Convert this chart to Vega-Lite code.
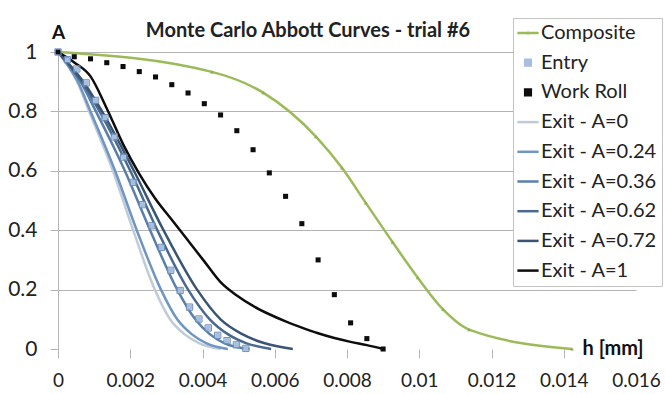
{
  "$schema": "https://vega.github.io/schema/vega-lite/v6.json",
  "width": 578,
  "height": 297,
  "autosize": {"type": "none"},
  "padding": {"left": 58, "top": 52, "right": 29, "bottom": 45},
  "background": "white",
  "config": {
    "font": "Lato",
    "view": {"stroke": null},
    "legend": {
      "orient": "none",
      "legendX": 455,
      "legendY": -34,
      "title": null,
      "labelFont": "Lato",
      "labelFontSize": 20,
      "labelColor": "#222222",
      "labelLimit": 400,
      "labelOffset": 3,
      "symbolSize": 50,
      "symbolStrokeWidth": 2.5,
      "padding": 5,
      "rowPadding": 9.7,
      "strokeColor": "#c4c4c4",
      "fillColor": "white"
    }
  },
  "title": {
    "text": "Monte Carlo Abbott Curves - trial #6",
    "font": "Lato",
    "fontSize": 20,
    "fontWeight": "bold",
    "color": "#222222",
    "anchor": "middle",
    "dx": -39,
    "dy": 27,
    "offset": 4
  },
  "data": {
    "values": [
      {"s": "Composite", "h": 0, "A": 1},
      {"s": "Composite", "h": 0.00426, "A": 0.933},
      {"s": "Composite", "h": 0.00568, "A": 0.863},
      {"s": "Composite", "h": 0.00714, "A": 0.715},
      {"s": "Composite", "h": 0.00786, "A": 0.61},
      {"s": "Composite", "h": 0.00852, "A": 0.492},
      {"s": "Composite", "h": 0.00926, "A": 0.36},
      {"s": "Composite", "h": 0.00996, "A": 0.24},
      {"s": "Composite", "h": 0.01066, "A": 0.133},
      {"s": "Composite", "h": 0.01138, "A": 0.065},
      {"s": "Composite", "h": 0.01423, "A": 0},

      {"s": "Entry", "h": 0, "A": 1},
      {"s": "Entry", "h": 0.00026, "A": 0.974},
      {"s": "Entry", "h": 0.00052, "A": 0.943},
      {"s": "Entry", "h": 0.00078, "A": 0.896},
      {"s": "Entry", "h": 0.00104, "A": 0.837},
      {"s": "Entry", "h": 0.0013, "A": 0.779},
      {"s": "Entry", "h": 0.00156, "A": 0.714},
      {"s": "Entry", "h": 0.00182, "A": 0.646},
      {"s": "Entry", "h": 0.00208, "A": 0.561},
      {"s": "Entry", "h": 0.00234, "A": 0.486},
      {"s": "Entry", "h": 0.0026, "A": 0.415},
      {"s": "Entry", "h": 0.00286, "A": 0.342},
      {"s": "Entry", "h": 0.00312, "A": 0.265},
      {"s": "Entry", "h": 0.00338, "A": 0.197},
      {"s": "Entry", "h": 0.00364, "A": 0.141},
      {"s": "Entry", "h": 0.0039, "A": 0.101},
      {"s": "Entry", "h": 0.00416, "A": 0.071},
      {"s": "Entry", "h": 0.00442, "A": 0.046},
      {"s": "Entry", "h": 0.00468, "A": 0.028},
      {"s": "Entry", "h": 0.00494, "A": 0.014},
      {"s": "Entry", "h": 0.0052, "A": 0.002},

      {"s": "Work Roll", "h": 0, "A": 1},
      {"s": "Work Roll", "h": 0.00045, "A": 0.984},
      {"s": "Work Roll", "h": 0.0009, "A": 0.977},
      {"s": "Work Roll", "h": 0.00135, "A": 0.964},
      {"s": "Work Roll", "h": 0.0018, "A": 0.951},
      {"s": "Work Roll", "h": 0.00225, "A": 0.934},
      {"s": "Work Roll", "h": 0.0027, "A": 0.916},
      {"s": "Work Roll", "h": 0.00315, "A": 0.89},
      {"s": "Work Roll", "h": 0.0036, "A": 0.862},
      {"s": "Work Roll", "h": 0.00405, "A": 0.826},
      {"s": "Work Roll", "h": 0.0045, "A": 0.788},
      {"s": "Work Roll", "h": 0.00495, "A": 0.735},
      {"s": "Work Roll", "h": 0.0054, "A": 0.671},
      {"s": "Work Roll", "h": 0.00585, "A": 0.593},
      {"s": "Work Roll", "h": 0.0063, "A": 0.514},
      {"s": "Work Roll", "h": 0.00675, "A": 0.422},
      {"s": "Work Roll", "h": 0.0072, "A": 0.3},
      {"s": "Work Roll", "h": 0.00765, "A": 0.183},
      {"s": "Work Roll", "h": 0.0081, "A": 0.088},
      {"s": "Work Roll", "h": 0.00855, "A": 0.035},
      {"s": "Work Roll", "h": 0.009, "A": 0},

      {"s": "Exit - A=0", "h": 0, "A": 1},
      {"s": "Exit - A=0", "h": 0.0003, "A": 0.95},
      {"s": "Exit - A=0", "h": 0.00053, "A": 0.9},
      {"s": "Exit - A=0", "h": 0.00086, "A": 0.8},
      {"s": "Exit - A=0", "h": 0.00152, "A": 0.6},
      {"s": "Exit - A=0", "h": 0.00208, "A": 0.4},
      {"s": "Exit - A=0", "h": 0.00268, "A": 0.2},
      {"s": "Exit - A=0", "h": 0.0031, "A": 0.1},
      {"s": "Exit - A=0", "h": 0.0035, "A": 0.05},
      {"s": "Exit - A=0", "h": 0.0039, "A": 0.02},
      {"s": "Exit - A=0", "h": 0.0045, "A": 0},

      {"s": "Exit - A=0.24", "h": 0, "A": 1},
      {"s": "Exit - A=0.24", "h": 0.0003, "A": 0.95},
      {"s": "Exit - A=0.24", "h": 0.00055, "A": 0.9},
      {"s": "Exit - A=0.24", "h": 0.0009, "A": 0.8},
      {"s": "Exit - A=0.24", "h": 0.00158, "A": 0.6},
      {"s": "Exit - A=0.24", "h": 0.00218, "A": 0.4},
      {"s": "Exit - A=0.24", "h": 0.00285, "A": 0.2},
      {"s": "Exit - A=0.24", "h": 0.0033, "A": 0.1},
      {"s": "Exit - A=0.24", "h": 0.0037, "A": 0.05},
      {"s": "Exit - A=0.24", "h": 0.0041, "A": 0.02},
      {"s": "Exit - A=0.24", "h": 0.0047, "A": 0},

      {"s": "Exit - A=0.36", "h": 0, "A": 1},
      {"s": "Exit - A=0.36", "h": 0.00033, "A": 0.95},
      {"s": "Exit - A=0.36", "h": 0.00062, "A": 0.9},
      {"s": "Exit - A=0.36", "h": 0.00105, "A": 0.8},
      {"s": "Exit - A=0.36", "h": 0.00185, "A": 0.6},
      {"s": "Exit - A=0.36", "h": 0.00255, "A": 0.4},
      {"s": "Exit - A=0.36", "h": 0.0033, "A": 0.2},
      {"s": "Exit - A=0.36", "h": 0.0038, "A": 0.1},
      {"s": "Exit - A=0.36", "h": 0.0042, "A": 0.05},
      {"s": "Exit - A=0.36", "h": 0.0046, "A": 0.02},
      {"s": "Exit - A=0.36", "h": 0.0053, "A": 0},

      {"s": "Exit - A=0.62", "h": 0, "A": 1},
      {"s": "Exit - A=0.62", "h": 0.00035, "A": 0.95},
      {"s": "Exit - A=0.62", "h": 0.00066, "A": 0.9},
      {"s": "Exit - A=0.62", "h": 0.00115, "A": 0.8},
      {"s": "Exit - A=0.62", "h": 0.002, "A": 0.6},
      {"s": "Exit - A=0.62", "h": 0.00275, "A": 0.4},
      {"s": "Exit - A=0.62", "h": 0.0036, "A": 0.2},
      {"s": "Exit - A=0.62", "h": 0.0042, "A": 0.1},
      {"s": "Exit - A=0.62", "h": 0.0047, "A": 0.05},
      {"s": "Exit - A=0.62", "h": 0.0052, "A": 0.02},
      {"s": "Exit - A=0.62", "h": 0.0059, "A": 0},

      {"s": "Exit - A=0.72", "h": 0, "A": 1},
      {"s": "Exit - A=0.72", "h": 0.00037, "A": 0.95},
      {"s": "Exit - A=0.72", "h": 0.0007, "A": 0.9},
      {"s": "Exit - A=0.72", "h": 0.00122, "A": 0.8},
      {"s": "Exit - A=0.72", "h": 0.0021, "A": 0.6},
      {"s": "Exit - A=0.72", "h": 0.00292, "A": 0.4},
      {"s": "Exit - A=0.72", "h": 0.00385, "A": 0.2},
      {"s": "Exit - A=0.72", "h": 0.0045, "A": 0.1},
      {"s": "Exit - A=0.72", "h": 0.0051, "A": 0.05},
      {"s": "Exit - A=0.72", "h": 0.0057, "A": 0.02},
      {"s": "Exit - A=0.72", "h": 0.0065, "A": 0},

      {"s": "Exit - A=1", "h": 0, "A": 1},
      {"s": "Exit - A=1", "h": 0.00045, "A": 0.965},
      {"s": "Exit - A=1", "h": 0.0009, "A": 0.918},
      {"s": "Exit - A=1", "h": 0.00135, "A": 0.81},
      {"s": "Exit - A=1", "h": 0.0018, "A": 0.69},
      {"s": "Exit - A=1", "h": 0.00225, "A": 0.59},
      {"s": "Exit - A=1", "h": 0.0027, "A": 0.505},
      {"s": "Exit - A=1", "h": 0.00315, "A": 0.435},
      {"s": "Exit - A=1", "h": 0.0036, "A": 0.365},
      {"s": "Exit - A=1", "h": 0.00405, "A": 0.295},
      {"s": "Exit - A=1", "h": 0.0045, "A": 0.225},
      {"s": "Exit - A=1", "h": 0.00495, "A": 0.18},
      {"s": "Exit - A=1", "h": 0.0054, "A": 0.145},
      {"s": "Exit - A=1", "h": 0.00585, "A": 0.117},
      {"s": "Exit - A=1", "h": 0.0063, "A": 0.093},
      {"s": "Exit - A=1", "h": 0.00675, "A": 0.072},
      {"s": "Exit - A=1", "h": 0.0072, "A": 0.053},
      {"s": "Exit - A=1", "h": 0.00765, "A": 0.037},
      {"s": "Exit - A=1", "h": 0.0081, "A": 0.024},
      {"s": "Exit - A=1", "h": 0.00855, "A": 0.013},
      {"s": "Exit - A=1", "h": 0.009, "A": 0}
    ]
  },
  "encoding": {
    "x": {
      "field": "h",
      "type": "quantitative",
      "scale": {"domain": [0, 0.016], "nice": false, "zero": false},
      "axis": {
        "values": [0, 0.002, 0.004, 0.006, 0.008, 0.01, 0.012, 0.014, 0.016],
        "format": "~g",
        "grid": false,
        "domain": false,
        "ticks": true,
        "tickSize": 9,
        "tickColor": "#b4b4b4",
        "tickOpacity": {"condition": {"test": "datum.value > 0.015", "value": 0}, "value": 1},
        "labelFont": "Lato",
        "labelFontSize": 19,
        "labelColor": "#222222",
        "labelPadding": 13,
        "labelFlush": false,
        "title": "h [mm]",
        "titleFont": "Lato",
        "titleFontSize": 20,
        "titleFontWeight": "bold",
        "titleColor": "#111111",
        "titleAlign": "left",
        "titleBaseline": "alphabetic",
        "titleAnchor": "start",
        "titleX": 524,
        "titleY": 5
      }
    },
    "y": {
      "field": "A",
      "type": "quantitative",
      "scale": {"domain": [0, 1], "nice": false},
      "axis": {
        "values": [0, 0.2, 0.4, 0.6, 0.8, 1],
        "format": "~g",
        "grid": true,
        "gridColor": "#b4b4b4",
        "gridOpacity": {"condition": {"test": "datum.value === 0", "value": 0}, "value": 1},
        "domain": true,
        "domainColor": "#b4b4b4",
        "ticks": true,
        "tickSize": 8,
        "tickColor": "#b4b4b4",
        "labelFont": "Lato",
        "labelFontSize": 21,
        "labelColor": "#222222",
        "labelPadding": 13,
        "title": "A",
        "titleFont": "Lato",
        "titleFontSize": 19,
        "titleFontWeight": "bold",
        "titleColor": "#111111",
        "titleAngle": 0,
        "titleAlign": "center",
        "titleBaseline": "alphabetic",
        "titleX": 0,
        "titleY": -14
      }
    }
  },
  "layer": [
    {
      "data": {"values": [{}]},
      "mark": {"type": "rule", "color": "#b4b4b4", "strokeWidth": 1},
      "encoding": {
        "x": {"datum": 0},
        "x2": {"datum": 0.0144},
        "y": {"datum": 0}
      }
    },
    {
      "transform": [{"filter": "datum.s !== 'Entry' && datum.s !== 'Work Roll'"}],
      "mark": {"type": "line", "interpolate": "monotone", "strokeWidth": 2.5},
      "encoding": {
        "color": {
          "field": "s",
          "type": "nominal",
          "scale": {
            "domain": ["Composite", "Entry", "Work Roll", "Exit - A=0", "Exit - A=0.24", "Exit - A=0.36", "Exit - A=0.62", "Exit - A=0.72", "Exit - A=1"],
            "range": ["#9BBB59", "#A7BFDE", "#0D0D0D", "#BFCBD9", "#6F95C2", "#5A7FAD", "#4A6990", "#3A5573", "#0D0D0D"]
          },
          "legend": {"orient": "none", "legendX": 455, "legendY": -34}
        },
        "detail": {"field": "s"}
      }
    },
    {
      "transform": [{"filter": "datum.s === 'Composite'"}],
      "mark": {"type": "point", "filled": true, "shape": "triangle-up", "size": 14, "color": "#8DAE4C", "opacity": 1}
    },
    {
      "transform": [{"filter": "datum.s === 'Entry' || datum.s === 'Work Roll'"}],
      "mark": {"type": "point", "filled": true, "size": 40, "opacity": 1},
      "encoding": {
        "color": {
          "field": "s",
          "type": "nominal",
          "scale": {
            "domain": ["Composite", "Entry", "Work Roll", "Exit - A=0", "Exit - A=0.24", "Exit - A=0.36", "Exit - A=0.62", "Exit - A=0.72", "Exit - A=1"],
            "range": ["#9BBB59", "#A7BFDE", "#0D0D0D", "#BFCBD9", "#6F95C2", "#5A7FAD", "#4A6990", "#3A5573", "#0D0D0D"]
          },
          "legend": {"orient": "none", "legendX": 455, "legendY": -34}
        },
        "shape": {
          "field": "s",
          "type": "nominal",
          "scale": {
            "domain": ["Composite", "Entry", "Work Roll", "Exit - A=0", "Exit - A=0.24", "Exit - A=0.36", "Exit - A=0.62", "Exit - A=0.72", "Exit - A=1"],
            "range": ["M-3,0H3M0,-0.45V0.45", "M-0.8,-0.8H0.8V0.8H-0.8Z", "M-0.8,-0.8H0.8V0.8H-0.8Z", "M-3,0H3", "M-3,0H3", "M-3,0H3", "M-3,0H3", "M-3,0H3", "M-3,0H3"]
          },
          "legend": {"orient": "none", "legendX": 455, "legendY": -34}
        }
      }
    },
    {
      "transform": [{"filter": "datum.s === 'Entry'"}],
      "mark": {"type": "point", "shape": "square", "filled": false, "size": 40, "stroke": "#6F8FBA", "strokeWidth": 1, "opacity": 1}
    }
  ]
}
